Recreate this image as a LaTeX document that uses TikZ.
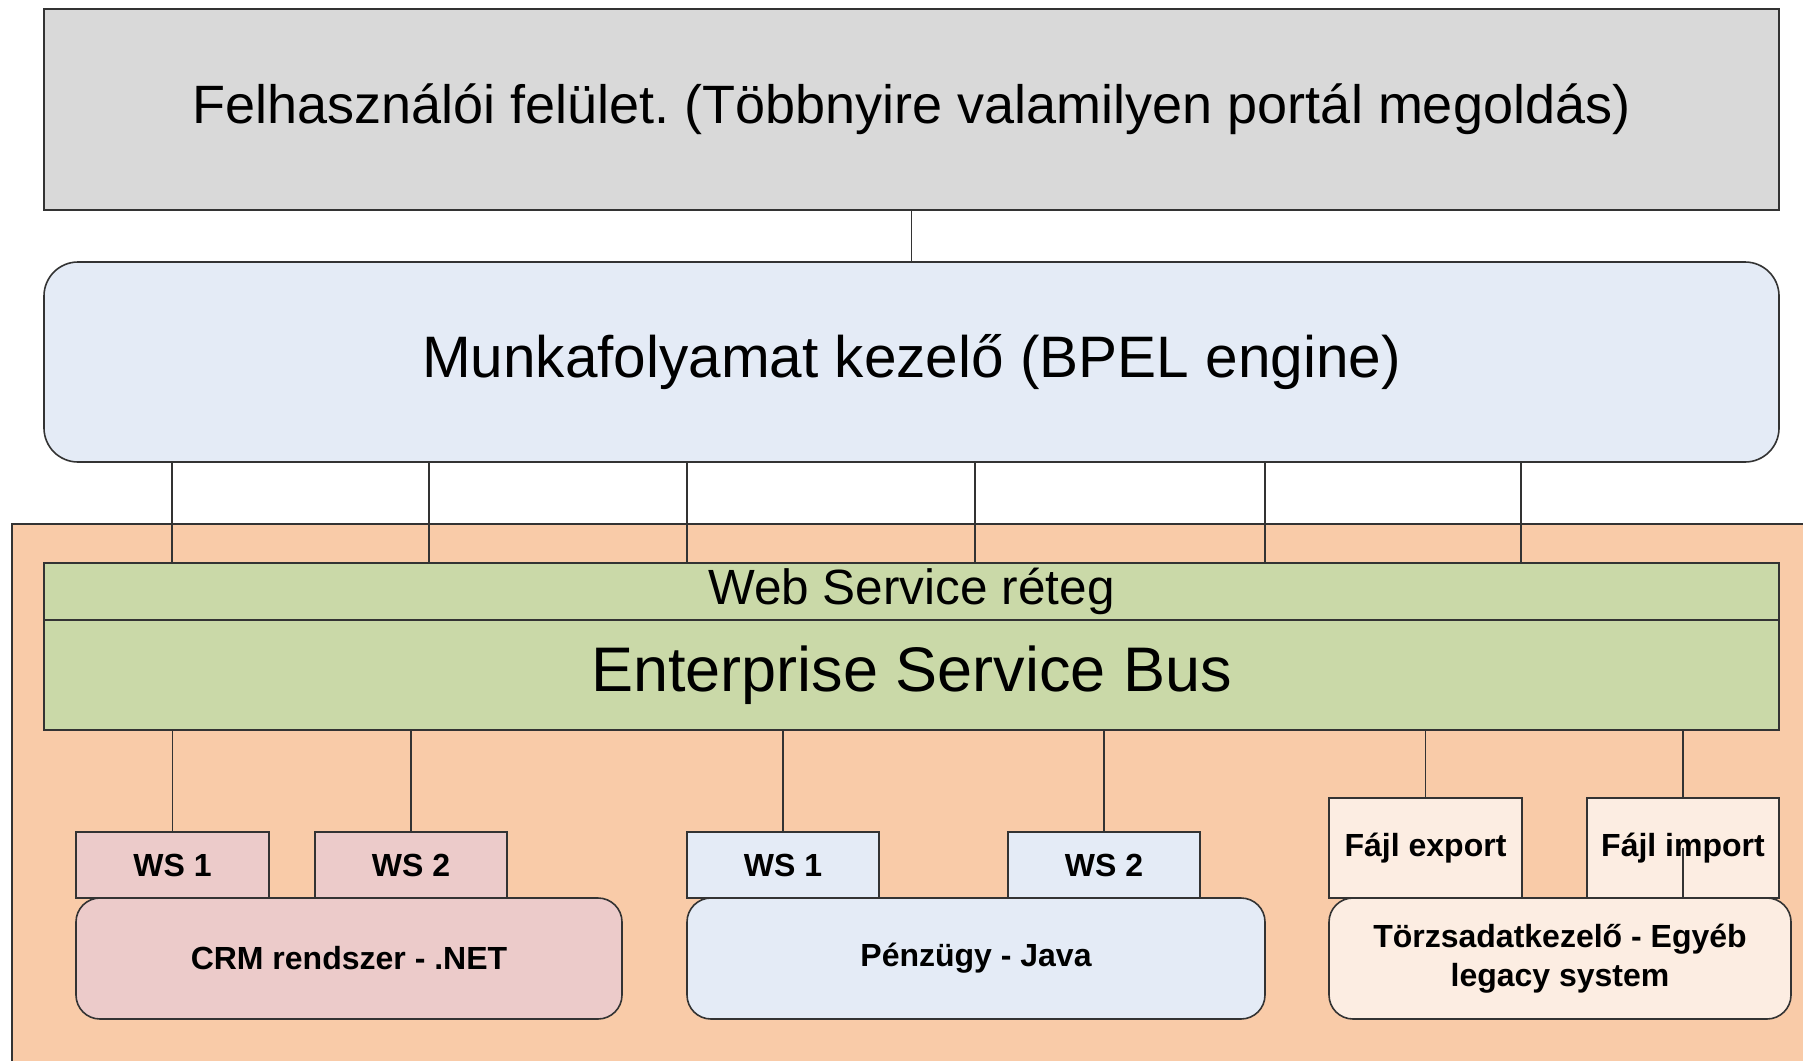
\documentclass[tikz,border=0pt]{standalone}
\usepackage{fontspec}
\setmainfont{Liberation Sans}
\frenchspacing
\definecolor{uigrey}{HTML}{D9D9D9}
\definecolor{bpelblue}{HTML}{E4EBF6}
\definecolor{peach}{HTML}{F9CBA8}
\definecolor{esbgreen}{HTML}{CAD9A8}
\definecolor{crmpink}{HTML}{ECCBCA}
\definecolor{torzs}{HTML}{FCEDE2}
\definecolor{edge}{HTML}{333333}
\tikzset{
  box/.style={draw=edge, line width=1.6pt, inner sep=0pt, align=center, text=black},
  wsbox/.style={box, minimum width=192pt, minimum height=66pt, font=\bfseries\fontsize{32}{39}\selectfont},
  sysbox/.style={box, rounded corners=24pt, minimum height=121pt, font=\bfseries\fontsize{32}{39}\selectfont},
  conn/.style={draw=edge, line width=1.8pt}
}
\begin{document}
\begin{tikzpicture}[x=1pt,y=-1pt]
\useasboundingbox (0,0) rectangle (1803,1060);
\clip (0,0) rectangle (1803,1060);
\fill[white] (0,0) rectangle (1803,1060);
% background container
\draw[fill=peach, draw=edge, line width=1.6pt] (12,524) rectangle (1840,1100);
% top layers
\node[box, fill=uigrey, minimum width=1735pt, minimum height=201pt, font=\frenchspacing\fontsize{54}{65}\selectfont] (ui) at (911.5,109.5) {Felhasználói felület. (Többnyire valamilyen portál megoldás)};
\node[box, fill=bpelblue, rounded corners=34pt, minimum width=1735pt, minimum height=200pt, font=\fontsize{58.5}{70}\selectfont] (bpel) at (911.5,362) {Munkafolyamat kezelő (BPEL engine)};
\node[box, fill=esbgreen, minimum width=1735pt, minimum height=57pt, font=\fontsize{49.5}{60}\selectfont] (wsl) at (911.5,591.5) {Web Service réteg};
\node[box, fill=esbgreen, minimum width=1735pt, minimum height=110pt, font=\fontsize{63}{76}\selectfont] (esb) at (911.5,675) {Enterprise Service Bus};
% systems
\node[sysbox, fill=crmpink, minimum width=546pt] (crm) at (349,958.5) {CRM rendszer - .NET};
\node[wsbox, fill=crmpink, minimum width=193pt] (crmws1) at (172.5,865) {WS 1};
\node[wsbox, fill=crmpink] (crmws2) at (411,865) {WS 2};
\node[sysbox, fill=bpelblue, minimum width=578pt] (pen) at (976,958.5) {Pénzügy - Java};
\node[wsbox, fill=bpelblue] (pws1) at (783,865) {WS 1};
\node[wsbox, fill=bpelblue] (pws2) at (1104,865) {WS 2};
\node[sysbox, fill=torzs, minimum width=462pt] (tor) at (1560,958.5) {Törzsadatkezelő - Egyéb\\legacy system};
\node[wsbox, fill=torzs, minimum width=193pt, minimum height=100pt] (fexp) at (1425.5,848) {Fájl export};
\node[wsbox, fill=torzs, minimum height=100pt] (fimp) at (1683,848) {Fájl import};
% connectors
\draw[conn] (ui.south) -- (bpel.north);
\foreach \i/\xx in {1/172,2/429,3/687,4/975,5/1265,6/1521}{
  \coordinate (t\i) at (\xx,0);
  \draw[conn] (t\i |- bpel.south) -- (t\i |- wsl.north);
}
\foreach \n in {crmws1,crmws2,pws1,pws2,fexp,fimp}{
  \draw[conn] (\n.north |- esb.south) -- (\n.north);
}
\draw[conn] (fimp.center) -- (fimp.south);
\end{tikzpicture}
\end{document}
